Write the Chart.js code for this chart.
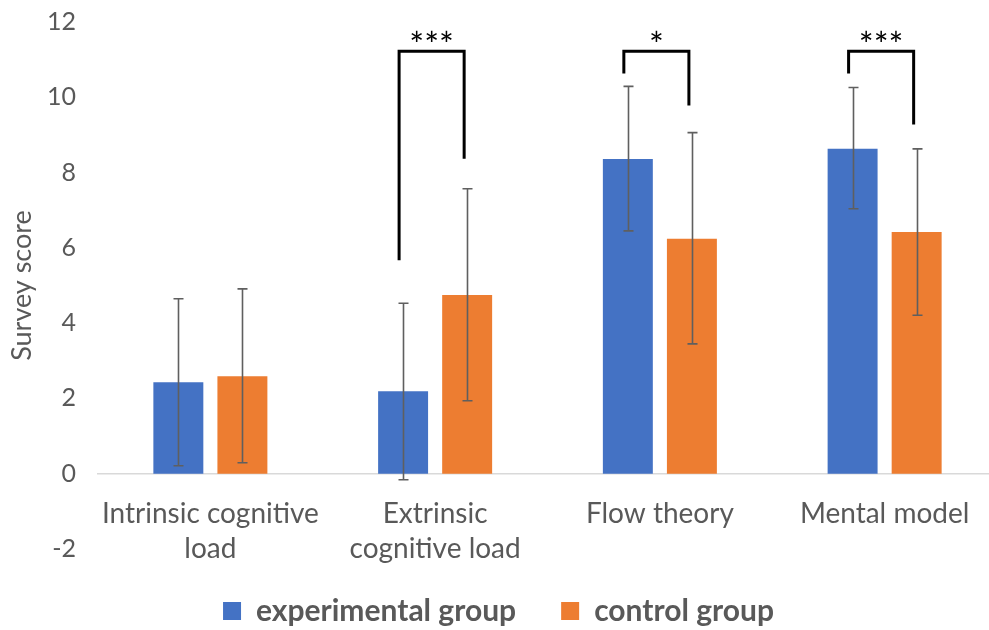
<!DOCTYPE html>
<html>
<head>
<meta charset="utf-8">
<script src="https://cdn.jsdelivr.net/npm/chart.js@4.4.0/dist/chart.umd.min.js"></script>
<style>
    html, body { margin: 0; padding: 0; background: #ffffff; overflow: hidden; }
    #wrap { width: 989px; height: 630px; position: relative; overflow: hidden; }
    #inner { width: 997px; height: 640px; position: absolute; left: 0; top: 0; }
</style>
</head>
<body>
<div id="wrap"><div id="inner"><canvas id="survey-chart"></canvas></div></div>
<script>
    "use strict";

    // Chart data
    var categories = [["Intrinsic cognitive", "load"], ["Extrinsic", "cognitive load"], "Flow theory", "Mental model"];
    var expMean = [2.43, 2.19, 8.36, 8.63];
    var expLow = [0.21, -0.16, 6.45, 7.04];
    var expHigh = [4.65, 4.53, 10.29, 10.26];
    var ctrlMean = [2.59, 4.75, 6.24, 6.42];
    var ctrlLow = [0.29, 1.94, 3.45, 4.21];
    var ctrlHigh = [4.91, 7.57, 9.06, 8.63];

    // Significance brackets (value units)
    var sigLabels = ["", "***", "*", "***"];
    var sigTop = [null, 11.22, 11.22, 11.22];
    var sigLeftEnd = [null, 5.67, 10.63, 10.63];
    var sigRightEnd = [null, 8.37, 9.78, 9.28];

    var yTicks = [-2, 0, 2, 4, 6, 8, 10, 12];

    var textGrey = "#595959";
    var fontFamily = "Lato, 'Open Sans', sans-serif";


    // Error bars + brackets
    var extrasPlugin = {
        id: "extras",
        afterDatasetsDraw: function (chart) {
            var ctx = chart.ctx;
            var y = chart.scales.y;
            var lows = [expLow, ctrlLow];
            var highs = [expHigh, ctrlHigh];

            ctx.save();
            ctx.strokeStyle = "#5f5f5f";
            ctx.lineWidth = 1.6;
            for (var d = 0; d < 2; d++) {
                var meta = chart.getDatasetMeta(d);
                meta.data.forEach(function (bar, i) {
                    var x = Math.round(bar.x) + 0.5;
                    var yl = y.getPixelForValue(lows[d][i]);
                    var yh = y.getPixelForValue(highs[d][i]);
                    ctx.beginPath();
                    ctx.moveTo(x, yl); ctx.lineTo(x, yh);
                    ctx.moveTo(x - 5, yl); ctx.lineTo(x + 5, yl);
                    ctx.moveTo(x - 5, yh); ctx.lineTo(x + 5, yh);
                    ctx.stroke();
                });
            }

            ctx.strokeStyle = "#000000";
            ctx.fillStyle = "#000000";
            ctx.lineWidth = 3;
            ctx.font = "35px " + fontFamily;
            ctx.textAlign = "center";
            ctx.textBaseline = "alphabetic";
            for (var i = 0; i < sigLabels.length; i++) {
                if (!sigLabels[i]) continue;
                var xl = chart.getDatasetMeta(0).data[i].x - 4;
                var xr = chart.getDatasetMeta(1).data[i].x - 3;
                var yt = y.getPixelForValue(sigTop[i]);
                ctx.beginPath();
                ctx.moveTo(xl, y.getPixelForValue(sigLeftEnd[i]));
                ctx.lineTo(xl, yt);
                ctx.lineTo(xr, yt);
                ctx.lineTo(xr, y.getPixelForValue(sigRightEnd[i]));
                ctx.stroke();
                ctx.fillText(sigLabels[i], (xl + xr) / 2, yt + 6);
            }
            ctx.restore();
        }
    };


    var ctx1 = document.getElementById("survey-chart").getContext("2d");
    var surveyChart = new Chart(ctx1, {
        type: "bar",
        data: {
            labels: categories,
            datasets: [{
                    label: "experimental group",
                    data: expMean,
                    backgroundColor: "#4472C4",
                    categoryPercentage: 0.57,
                    barPercentage: 0.78
                },
                {
                    label: "control group",
                    data: ctrlMean,
                    backgroundColor: "#ED7D31",
                    categoryPercentage: 0.57,
                    barPercentage: 0.78
                }
            ]
        },
        options: {
            responsive: true,
            maintainAspectRatio: false,
            animation: false,
            layout: {
                padding: { top: 22, right: 0, bottom: 4, left: 0 }
            },
            plugins: {
                tooltip: { enabled: false },
                legend: {
                    position: "bottom",
                    title: {
                        display: true,
                        text: " ",
                        padding: { top: 1, bottom: 0 },
                        font: { size: 1, lineHeight: 1 }
                    },
                    labels: {
                        color: textGrey,
                        font: { family: fontFamily, size: 30, weight: "bold" },
                        boxWidth: 18,
                        boxHeight: 18,
                        padding: 45
                    }
                }
            },
            scales: {
                x: {
                    position: { y: 0 },
                    grid: { display: false, drawTicks: false },
                    border: { display: true, color: "#d9d9d9", width: 1.5 },
                    ticks: {
                        color: textGrey,
                        padding: 23,
                        maxRotation: 0,
                        font: { family: fontFamily, size: 28, lineHeight: 1.24 }
                    }
                },
                y: {
                    min: -2,
                    max: 12,
                    afterFit: function (scale) { scale.width = 98; },
                    afterBuildTicks: function (scale) {
                        scale.ticks = yTicks.map(function (v) { return { value: v }; });
                    },
                    grid: { display: false, drawTicks: true, tickLength: 22, tickColor: "rgba(0,0,0,0)" },
                    border: { display: false },
                    ticks: {
                        color: textGrey,
                        padding: 0,
                        font: { family: fontFamily, size: 25 }
                    },
                    title: {
                        display: true,
                        text: "Survey score",
                        color: textGrey,
                        padding: { top: 6, bottom: 0 },
                        font: { family: fontFamily, size: 27 }
                    }
                }
            }
        },
        plugins: [extrasPlugin]
    });
</script>
</body>
</html>
